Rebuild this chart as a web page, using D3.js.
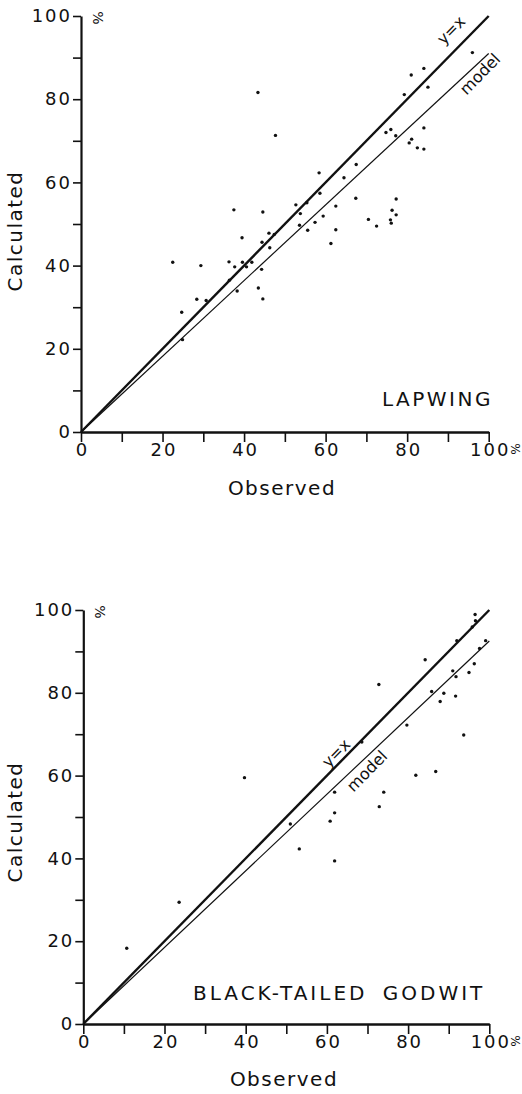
<!DOCTYPE html>
<html><head><meta charset="utf-8">
<script src="https://cdn.jsdelivr.net/npm/d3@7"></script>
<style>
html,body{margin:0;padding:0;background:#fff;}
svg{display:block;}
text{font-family:"DejaVu Sans",sans-serif;fill:#111;}
</style></head>
<body>
<svg id="chart" width="522" height="1094"></svg>
<script>
// ---- data ----
const lapwingObserved = [22.5,24.7,24.9,28.4,29.4,30.7,36.3,36.4,37.5,37.7,38.3,39.5,39.6,40.6,41.9,43.4,43.5,44.3,44.4,44.6,44.6,46.1,46.3,47.4,47.7,52.7,53.6,53.8,55.4,55.6,57.4,58.4,58.6,59.4,61.3,62.5,62.5,64.5,67.4,67.5,70.5,72.5,74.8,75.9,76.0,76.1,76.3,77.2,77.3,77.3,79.3,80.5,81.0,81.1,82.5,84.1,84.1,84.1,85.1,96.0];
const lapwingCalculated = [40.8,28.8,22.2,31.9,40.0,31.6,40.9,36.5,53.4,39.7,33.9,46.7,40.8,39.7,40.8,81.6,34.6,39.1,45.6,52.9,32.0,47.8,44.3,47.5,71.3,54.6,49.7,52.5,55.1,48.5,50.4,62.3,57.4,51.9,45.3,54.3,48.6,61.1,56.2,64.3,51.1,49.5,72.0,51.0,72.7,50.2,53.3,71.2,56.0,52.2,81.1,69.5,85.8,70.4,68.3,87.4,73.1,68.0,82.9,91.2];
const godwitObserved = [10.7,23.6,39.7,51.0,53.2,60.8,61.9,61.9,61.9,68.6,72.8,72.9,74.0,79.7,81.9,84.2,85.8,86.8,87.9,88.8,91.0,91.7,91.8,92.0,93.7,95.0,95.8,96.3,96.5,96.6,97.6,99.1];
const godwitCalculated = [18.3,29.4,59.5,48.3,42.3,49.0,56.0,51.0,39.4,68.1,82.0,52.5,56.0,72.2,60.1,88.0,80.3,61.0,77.9,79.9,85.3,79.2,83.9,92.6,69.8,84.9,95.9,87.0,98.9,97.4,90.7,92.6];
const lapwingModelEnd = [0, 100, 0, 91];   // x0, x1, y0, y1 of model line
const godwitModelEnd = [0, 100, 0, 92.5];
const identityLine = [0, 100];
const tickValues = [0,10,20,30,40,50,60,70,80,90,100];
const tickLabels = ["0","","20","","40","","60","","80","","100"];
const panelTitles = ["LAPWING", "BLACK-TAILED GODWIT"];
const axisTitles = ["Observed", "Calculated"];

const svg = d3.select("#chart");

function panel(cfg){
  const g = svg.append("g");
  const x = d3.scaleLinear().domain([0,100]).range(cfg.xr);
  const y = d3.scaleLinear().domain([0,100]).range(cfg.yr);
  const fmt = (d,i) => tickLabels[i];

  // y axis
  const ya = g.append("g").attr("transform",`translate(${cfg.xr[0]},0)`)
    .call(d3.axisLeft(y).tickValues(tickValues).tickFormat(fmt).tickSize(8).tickSizeOuter(0).tickPadding(3));
  ya.select(".domain").attr("stroke","#111").attr("stroke-width",2.2);
  ya.selectAll(".tick line").attr("stroke","#111").attr("stroke-width",1.6);
  ya.selectAll(".tick text").attr("font-size",18).attr("letter-spacing",2).attr("fill","#111")
    .attr("font-family","DejaVu Sans").attr("dx",2);

  // x axis
  const xa = g.append("g").attr("transform",`translate(0,${cfg.yr[0]})`)
    .call(d3.axisBottom(x).tickValues(tickValues).tickFormat(fmt).tickSize(10).tickSizeOuter(0).tickPadding(1));
  xa.select(".domain").attr("stroke","#111").attr("stroke-width",2.4);
  xa.selectAll(".tick line").attr("stroke","#111").attr("stroke-width",1.6);
  xa.selectAll(".tick text").attr("font-size",18).attr("letter-spacing",2).attr("fill","#111")
    .attr("font-family","DejaVu Sans").attr("dx",1);

  // percent marks
  g.append("text").attr("transform",`translate(${cfg.xr[0]+12},${cfg.yr[1]+2}) rotate(90)`)
    .attr("font-size",14).attr("text-anchor","middle").text("%");
  g.append("text").attr("transform",`translate(${x(100)+cfg.pctX},${cfg.yr[0]+17}) rotate(90)`)
    .attr("font-size",cfg.pctSize).attr("text-anchor","middle").text("%");

  // lines
  g.append("line").attr("x1",x(identityLine[0])).attr("y1",y(identityLine[0]))
    .attr("x2",x(identityLine[1])).attr("y2",y(identityLine[1]))
    .attr("stroke","#111").attr("stroke-width",2.4);
  g.append("line").attr("x1",x(cfg.model[0])).attr("y1",y(cfg.model[2]))
    .attr("x2",x(cfg.model[1])).attr("y2",y(cfg.model[3]))
    .attr("stroke","#111").attr("stroke-width",1.2);

  const ang = Math.atan2(y(100)-y(0), x(100)-x(0))*180/Math.PI;
  g.append("text").attr("transform",`translate(${cfg.yxLab[0]},${cfg.yxLab[1]}) rotate(${ang})`)
    .attr("font-size",16).attr("text-anchor","middle").attr("dy","0.35em").text("y=x");
  g.append("text").attr("transform",`translate(${cfg.modLab[0]},${cfg.modLab[1]}) rotate(${ang})`)
    .attr("font-size",16).attr("text-anchor","middle").attr("dy","0.35em").text("model");

  // points
  g.selectAll("circle.pt").data(cfg.obs).enter().append("circle")
    .attr("cx",d=>x(d)).attr("cy",(d,i)=>y(cfg.calc[i])).attr("r",1.7).attr("fill","#111");

  // titles
  g.append("text").attr("x",cfg.titleX).attr("y",cfg.titleY).attr("font-size",20)
    .attr("letter-spacing",cfg.titleLS).attr("word-spacing",cfg.titleWS).text(cfg.title);
  g.append("text").attr("x",cfg.obsX).attr("y",cfg.obsY).attr("font-size",20)
    .attr("letter-spacing",1.5).attr("text-anchor","middle").text(axisTitles[0]);
  g.append("text").attr("transform",`translate(${cfg.calcX},${cfg.calcY}) rotate(-90)`)
    .attr("font-size",20).attr("letter-spacing",1.5).attr("text-anchor","middle").text(axisTitles[1]);
}

panel({xr:[81,488.7], yr:[432,16], obs:lapwingObserved, calc:lapwingCalculated, model:lapwingModelEnd,
  yxLab:[451,30], modLab:[480,74], title:panelTitles[0], titleX:382, titleY:406, titleLS:2.5, titleWS:0,
  obsX:282, obsY:495, calcX:22, calcY:231, pctX:22, pctSize:12});
panel({xr:[83.3,489.3], yr:[1024,610], obs:godwitObserved, calc:godwitCalculated, model:godwitModelEnd,
  yxLab:[336,753], modLab:[367,771], title:panelTitles[1], titleX:193, titleY:1000, titleLS:3, titleWS:6,
  obsX:284, obsY:1086, calcX:22, calcY:822, pctX:22, pctSize:12});
</script>
</body></html>
